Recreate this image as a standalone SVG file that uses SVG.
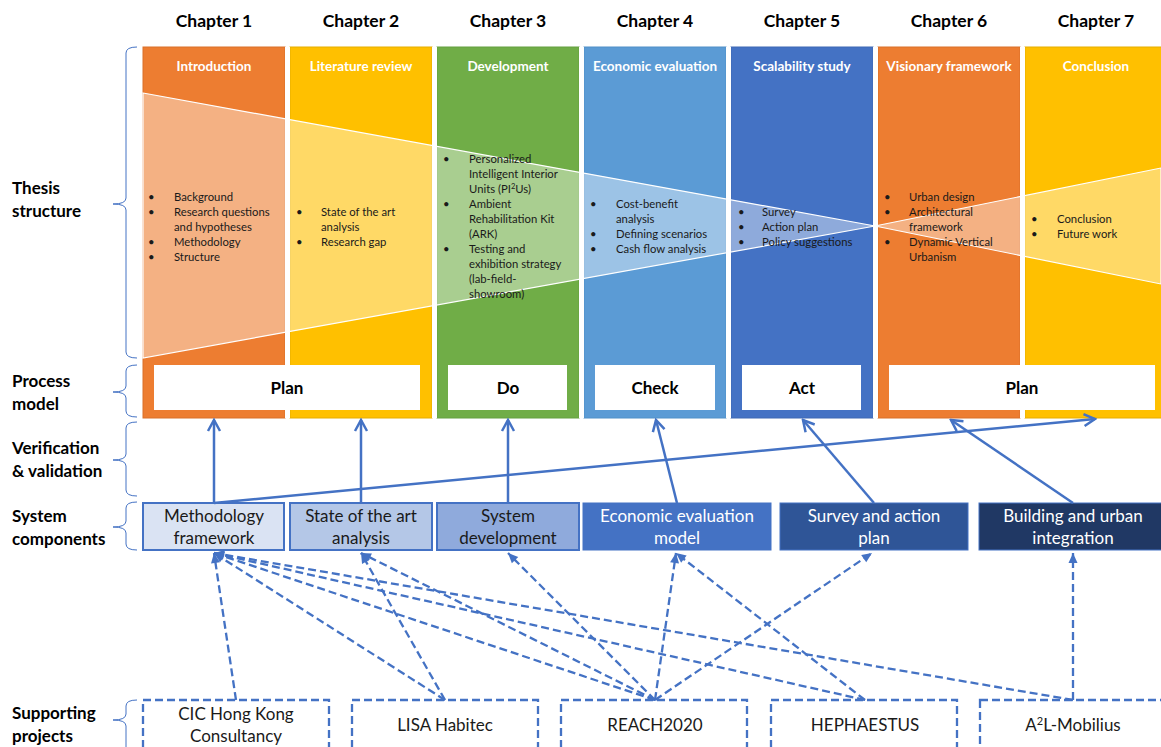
<svg xmlns="http://www.w3.org/2000/svg" width="1161" height="747" viewBox="0 0 1161 747">
<style>
.ch{font-family:Lato,"Liberation Sans",sans-serif;font-weight:bold;font-size:17.5px;fill:#000;text-anchor:middle}
.lbl{font-family:Lato,"Liberation Sans",sans-serif;font-weight:bold;font-size:17px;fill:#000}
.ttl{font-family:Lato,"Liberation Sans",sans-serif;font-weight:bold;font-size:13.5px;fill:#fff;text-anchor:middle}
.bt{font-family:Lato,"Liberation Sans",sans-serif;font-size:11.3px;fill:#1a1a1a}
.pm{font-family:Lato,"Liberation Sans",sans-serif;font-weight:bold;font-size:17px;fill:#000;text-anchor:middle}
.sc{font-family:Lato,"Liberation Sans",sans-serif;font-size:17px;text-anchor:middle}
.brace{fill:none;stroke:#4472C4;stroke-width:1}
.col{stroke-width:1}
.pbox{fill:#fff}
.solid{fill:none;stroke:#4472C4;stroke-width:2.5}
.dash{fill:none;stroke:#4472C4;stroke-width:2.3;stroke-dasharray:8 4}
.proj{fill:#fff;stroke:#4472C4;stroke-width:2.3;stroke-dasharray:8 4}
</style>
<defs>
<marker id="openArrow" markerUnits="userSpaceOnUse" markerWidth="16" markerHeight="16" viewBox="0 0 16 16" refX="14" refY="8" orient="auto">
<path d="M3,2 L14,8 L3,14" fill="none" stroke="#4472C4" stroke-width="2.5"/>
</marker>
<marker id="smallArrow" markerUnits="userSpaceOnUse" markerWidth="12" markerHeight="12" viewBox="0 0 12 12" refX="11" refY="6" orient="auto">
<path d="M1,1.5 L11,6 L1,10.5 Z" fill="#4472C4"/>
</marker>
</defs>
<rect width="1161" height="747" fill="#fff"/>

<!-- Chapter headings -->
<g id="chapters">
<text class="ch" x="214" y="27">Chapter 1</text>
<text class="ch" x="361" y="27">Chapter 2</text>
<text class="ch" x="508" y="27">Chapter 3</text>
<text class="ch" x="655" y="27">Chapter 4</text>
<text class="ch" x="802" y="27">Chapter 5</text>
<text class="ch" x="949" y="27">Chapter 6</text>
<text class="ch" x="1096" y="27">Chapter 7</text>
</g>

<!-- Row labels and braces -->
<g id="row-labels">
<text class="lbl" x="12" y="194">Thesis</text>
<text class="lbl" x="12" y="217">structure</text>
<text class="lbl" x="12" y="387">Process</text>
<text class="lbl" x="12" y="410">model</text>
<text class="lbl" x="12" y="454">Verification</text>
<text class="lbl" x="12" y="477">&amp; validation</text>
<text class="lbl" x="12" y="522">System</text>
<text class="lbl" x="12" y="545">components</text>
<text class="lbl" x="12" y="719">Supporting</text>
<text class="lbl" x="12" y="742">projects</text>
<path class="brace" d="M137,47 Q126,47 126,53 L126,198 Q126,204 113,204 Q126,204 126,210 L126,352 Q126,358 137,358"/>
<path class="brace" d="M137,365 Q126,365 126,371 L126,386 Q126,392 113,392 Q126,392 126,398 L126,411 Q126,417 137,417"/>
<path class="brace" d="M137,422 Q126,422 126,428 L126,454 Q126,460 113,460 Q126,460 126,466 L126,490 Q126,496 137,496"/>
<path class="brace" d="M137,502 Q126,502 126,508 L126,521 Q126,527 113,527 Q126,527 126,533 L126,544 Q126,550 137,550"/>
<path class="brace" d="M137,700 Q126,700 126,706 L126,714 Q126,720 113,720 Q126,720 126,726 L126,747"/>
</g>

<!-- Chapter columns -->
<g id="col1"><rect class="col" x="143" y="47" width="142" height="371" fill="#ED7D31" stroke="#D9702A"/></g>
<g id="col2"><rect class="col" x="290" y="47" width="142" height="371" fill="#FFC000" stroke="#E6AD00"/></g>
<g id="col3"><rect class="col" x="437" y="47" width="142" height="371" fill="#70AD47" stroke="#65A040"/></g>
<g id="col4"><rect class="col" x="584" y="47" width="142" height="371" fill="#5B9BD5" stroke="#5190C8"/></g>
<g id="col5"><rect class="col" x="731" y="47" width="142" height="371" fill="#4472C4" stroke="#3E68B4"/></g>
<g id="col6"><rect class="col" x="878" y="47" width="142" height="371" fill="#ED7D31" stroke="#D9702A"/></g>
<g id="col7"><rect class="col" x="1025" y="47" width="142" height="371" fill="#FFC000" stroke="#E6AD00"/></g>

<!-- Funnel overlay -->
<g id="funnel">
<path d="M143,93 L875,226 L143,358 Z" fill="#fff" fill-opacity="0.4" stroke="#fff" stroke-width="1.2"/>
<path d="M875,226 L1161,168 L1161,284 Z" fill="#fff" fill-opacity="0.4" stroke="#fff" stroke-width="1.2"/>
<rect x="285" y="47" width="5" height="371" fill="#fff"/>
<rect x="432" y="47" width="5" height="371" fill="#fff"/>
<rect x="579" y="47" width="5" height="371" fill="#fff"/>
<rect x="726" y="47" width="5" height="371" fill="#fff"/>
<rect x="873" y="47" width="5" height="371" fill="#fff"/>
<rect x="1020" y="47" width="5" height="371" fill="#fff"/>
</g>

<!-- Column titles -->
<g id="titles">
<text class="ttl" x="214" y="71">Introduction</text>
<text class="ttl" x="361" y="71">Literature review</text>
<text class="ttl" x="508" y="71">Development</text>
<text class="ttl" x="655" y="71">Economic evaluation</text>
<text class="ttl" x="802" y="71">Scalability study</text>
<text class="ttl" x="949" y="71">Visionary framework</text>
<text class="ttl" x="1096" y="71">Conclusion</text>
</g>

<!-- Bullets -->
<g id="bullets1" class="bt">
<text x="148" y="201">•</text><text x="174" y="201">Background</text>
<text x="148" y="216">•</text><text x="174" y="216">Research questions</text>
<text x="174" y="231">and hypotheses</text>
<text x="148" y="246">•</text><text x="174" y="246">Methodology</text>
<text x="148" y="261">•</text><text x="174" y="261">Structure</text>
</g>
<g id="bullets2" class="bt">
<text x="296" y="216">•</text><text x="321" y="216">State of the art</text>
<text x="321" y="231">analysis</text>
<text x="296" y="246">•</text><text x="321" y="246">Research gap</text>
</g>
<g id="bullets3" class="bt">
<text x="443" y="163">•</text><text x="469" y="163">Personalized</text>
<text x="469" y="178">Intelligent Interior</text>
<text x="469" y="193">Units (PI<tspan font-size="7.5" dy="-4">2</tspan><tspan dy="4">Us)</tspan></text>
<text x="443" y="208">•</text><text x="469" y="208">Ambient</text>
<text x="469" y="223">Rehabilitation Kit</text>
<text x="469" y="238">(ARK)</text>
<text x="443" y="253">•</text><text x="469" y="253">Testing and</text>
<text x="469" y="268">exhibition strategy</text>
<text x="469" y="283">(lab-field-</text>
<text x="469" y="298">showroom)</text>
</g>
<g id="bullets4" class="bt">
<text x="590" y="208">•</text><text x="616" y="208">Cost-benefit</text>
<text x="616" y="223">analysis</text>
<text x="590" y="238">•</text><text x="616" y="238">Defining scenarios</text>
<text x="590" y="253">•</text><text x="616" y="253">Cash flow analysis</text>
</g>
<g id="bullets5" class="bt">
<text x="738" y="216">•</text><text x="762" y="216">Survey</text>
<text x="738" y="231">•</text><text x="762" y="231">Action plan</text>
<text x="738" y="246">•</text><text x="762" y="246">Policy suggestions</text>
</g>
<g id="bullets6" class="bt">
<text x="884" y="201">•</text><text x="909" y="201">Urban design</text>
<text x="884" y="216">•</text><text x="909" y="216">Architectural</text>
<text x="909" y="231">framework</text>
<text x="884" y="246">•</text><text x="909" y="246">Dynamic Vertical</text>
<text x="909" y="261">Urbanism</text>
</g>
<g id="bullets7" class="bt">
<text x="1031" y="223">•</text><text x="1057" y="223">Conclusion</text>
<text x="1031" y="238">•</text><text x="1057" y="238">Future work</text>
</g>

<!-- Process model boxes -->
<g id="pm-plan1"><rect class="pbox" x="154" y="365" width="266" height="45"/><text class="pm" x="287" y="394">Plan</text></g>
<g id="pm-do"><rect class="pbox" x="448" y="365" width="119" height="45"/><text class="pm" x="508" y="394">Do</text></g>
<g id="pm-check"><rect class="pbox" x="595" y="365" width="120" height="45"/><text class="pm" x="655" y="394">Check</text></g>
<g id="pm-act"><rect class="pbox" x="742" y="365" width="119" height="45"/><text class="pm" x="802" y="394">Act</text></g>
<g id="pm-plan2"><rect class="pbox" x="889" y="365" width="266" height="45"/><text class="pm" x="1022" y="394">Plan</text></g>

<!-- System components -->
<g id="sc-method"><rect x="143" y="503" width="141" height="47" fill="#DAE3F3" stroke="#4472C4" stroke-width="2"/><text class="sc" x="214" y="522" fill="#1a1a1a">Methodology</text><text class="sc" x="214" y="544" fill="#1a1a1a">framework</text></g>
<g id="sc-sota"><rect x="290" y="503" width="142" height="47" fill="#B4C7E7" stroke="#4472C4" stroke-width="2"/><text class="sc" x="361" y="522" fill="#1a1a1a">State of the art</text><text class="sc" x="361" y="544" fill="#1a1a1a">analysis</text></g>
<g id="sc-sysdev"><rect x="437" y="503" width="142" height="47" fill="#8FAADC" stroke="#4472C4" stroke-width="2"/><text class="sc" x="508" y="522" fill="#1a1a1a">System</text><text class="sc" x="508" y="544" fill="#1a1a1a">development</text></g>
<g id="sc-econ"><rect x="583" y="503" width="188" height="47" fill="#4472C4" stroke="#4472C4" stroke-width="1"/><text class="sc" x="677" y="522" fill="#fff">Economic evaluation</text><text class="sc" x="677" y="544" fill="#fff">model</text></g>
<g id="sc-survey"><rect x="780" y="503" width="188" height="47" fill="#2F5597" stroke="#4472C4" stroke-width="1"/><text class="sc" x="874" y="522" fill="#fff">Survey and action</text><text class="sc" x="874" y="544" fill="#fff">plan</text></g>
<g id="sc-building"><rect x="979" y="503" width="186" height="47" fill="#203864" stroke="#4472C4" stroke-width="1"/><text class="sc" x="1073" y="522" fill="#fff">Building and urban</text><text class="sc" x="1073" y="544" fill="#fff">integration</text></g>

<!-- Supporting projects -->
<g id="sp-cic"><rect class="proj" x="143" y="700" width="186" height="60"/><text class="sc" x="236" y="720" fill="#1a1a1a">CIC Hong Kong</text><text class="sc" x="236" y="742" fill="#1a1a1a">Consultancy</text></g>
<g id="sp-lisa"><rect class="proj" x="352" y="700" width="186" height="60"/><text class="sc" x="445" y="731" fill="#1a1a1a">LISA Habitec</text></g>
<g id="sp-reach"><rect class="proj" x="561" y="700" width="186" height="60"/><text class="sc" x="655" y="731" fill="#1a1a1a">REACH2020</text></g>
<g id="sp-heph"><rect class="proj" x="771" y="700" width="186" height="60"/><text class="sc" x="865" y="731" fill="#1a1a1a">HEPHAESTUS</text></g>
<g id="sp-a2l"><rect class="proj" x="980" y="700" width="190" height="60"/><text class="sc" x="1073" y="731" fill="#1a1a1a">A<tspan font-size="11" dy="-6">2</tspan><tspan dy="6">L-Mobilius</tspan></text></g>

<!-- Connectors -->
<g id="connectors">
<line class="solid" x1="214" y1="503" x2="214" y2="420" marker-end="url(#openArrow)"/>
<line class="solid" x1="361" y1="503" x2="361" y2="420" marker-end="url(#openArrow)"/>
<line class="solid" x1="508" y1="503" x2="508" y2="420" marker-end="url(#openArrow)"/>
<line class="solid" x1="677" y1="503" x2="656" y2="420" marker-end="url(#openArrow)"/>
<line class="solid" x1="874" y1="503" x2="803" y2="420" marker-end="url(#openArrow)"/>
<line class="solid" x1="1073" y1="503" x2="951" y2="420" marker-end="url(#openArrow)"/>
<line class="solid" x1="214" y1="503" x2="1095" y2="419" marker-end="url(#openArrow)"/>

<line class="dash" x1="236" y1="700" x2="214" y2="553" marker-end="url(#smallArrow)"/>
<line class="dash" x1="445" y1="700" x2="214" y2="553" marker-end="url(#smallArrow)"/>
<line class="dash" x1="445" y1="700" x2="361" y2="553" marker-end="url(#smallArrow)"/>
<line class="dash" x1="655" y1="700" x2="214" y2="553" marker-end="url(#smallArrow)"/>
<line class="dash" x1="655" y1="700" x2="361" y2="553" marker-end="url(#smallArrow)"/>
<line class="dash" x1="655" y1="700" x2="508" y2="553" marker-end="url(#smallArrow)"/>
<line class="dash" x1="655" y1="700" x2="676" y2="553" marker-end="url(#smallArrow)"/>
<line class="dash" x1="655" y1="700" x2="872" y2="553" marker-end="url(#smallArrow)"/>
<line class="dash" x1="865" y1="700" x2="214" y2="553" marker-end="url(#smallArrow)"/>
<line class="dash" x1="865" y1="700" x2="676" y2="553" marker-end="url(#smallArrow)"/>
<line class="dash" x1="1073" y1="700" x2="214" y2="553" marker-end="url(#smallArrow)"/>
<line class="dash" x1="1073" y1="700" x2="1073" y2="553" marker-end="url(#smallArrow)"/>
</g>
</svg>
